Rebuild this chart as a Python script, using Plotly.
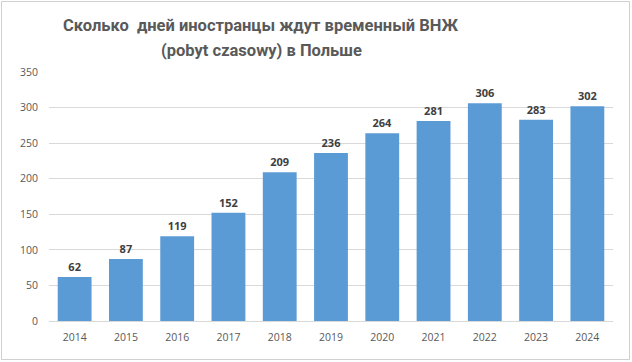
import plotly.graph_objects as go

years = ["2014", "2015", "2016", "2017", "2018", "2019", "2020", "2021", "2022", "2023", "2024"]
days = [62, 87, 119, 152, 209, 236, 264, 281, 306, 283, 302]
y_ticks = [0, 50, 100, 150, 200, 250, 300, 350]
title_lines = ["Сколько  дней иностранцы ждут временный ВНЖ", "(pobyt czasowy) в Польше"]

fig = go.Figure(go.Bar(
    x=years, y=days,
    marker=dict(color="#5B9BD5", line=dict(width=0)),
    text=[str(v) for v in days],
    textposition="outside",
    textfont=dict(family="Open Sans", size=11, color="#404040", weight="bold"),
    cliponaxis=False,
))

L, R, T, B = 49, 19, 72, 41
W, H = 632, 362
pw = W - L - R
ph = H - T - B

def px_x(px):
    return (px - L) / pw

def px_y(py):
    return (H - B - py) / ph

fig.update_layout(
    width=W, height=H,
    margin=dict(l=L, r=R, t=T, b=B),
    paper_bgcolor="white", plot_bgcolor="white",
    bargap=0.34,
    showlegend=False,
    annotations=[
        dict(text=title_lines[0], xref="paper", yref="paper", x=px_x(261), y=px_y(25),
             xanchor="center", yanchor="middle", showarrow=False,
             font=dict(family="Roboto", size=16.5, color="#595959", weight="bold")),
        dict(text=title_lines[1], xref="paper", yref="paper", x=px_x(261), y=px_y(50),
             xanchor="center", yanchor="middle", showarrow=False,
             font=dict(family="Roboto", size=16.5, color="#595959", weight="bold")),
    ],
    xaxis=dict(
        tickfont=dict(family="Open Sans", size=10.5, color="#595959"),
        showgrid=False, showline=True, linecolor="#D9D9D9", linewidth=1,
        ticks="outside", ticklen=6, tickcolor="rgba(0,0,0,0)",
    ),
    yaxis=dict(
        range=[0, 350], tickvals=y_ticks,
        tickfont=dict(family="Open Sans", size=10.5, color="#595959"),
        showgrid=True, gridcolor="#D9D9D9", gridwidth=1,
        zeroline=False, showline=False,
        ticks="outside", ticklen=8, tickcolor="rgba(0,0,0,0)",
    ),
    shapes=[dict(
        type="rect", xref="paper", yref="paper",
        x0=px_x(1.5), x1=px_x(629.5),
        y0=px_y(359.5), y1=px_y(1.5),
        line=dict(color="#D0D0D0", width=1), fillcolor="rgba(0,0,0,0)",
        layer="below",
    )],
)

fig.write_html("out.html", config={"displayModeBar": False},
               post_script="document.body.style.margin='0';")
